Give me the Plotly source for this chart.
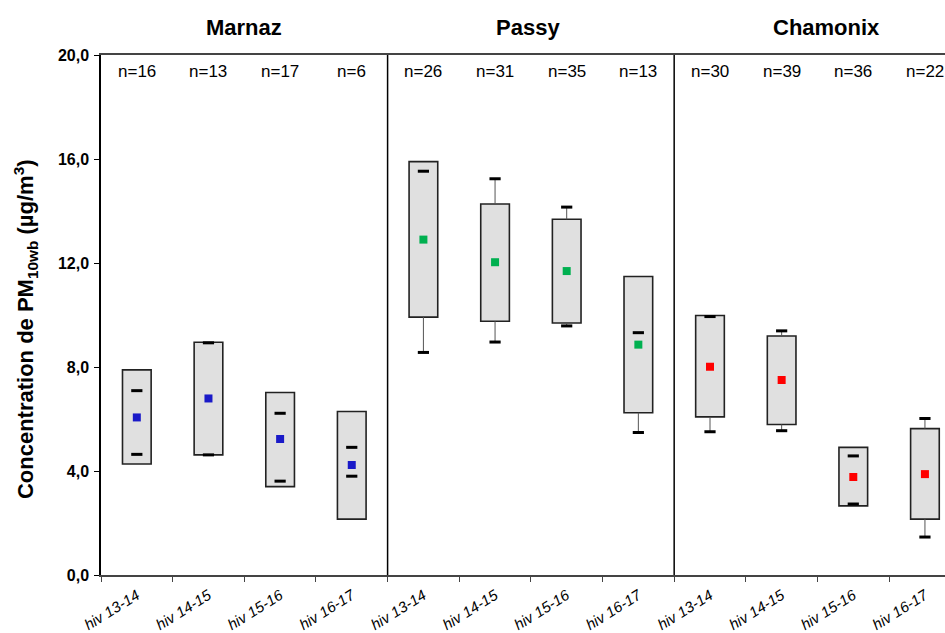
import plotly.graph_objects as go

sites = ["Marnaz", "Passy", "Chamonix"]
seasons = ["hiv 13-14", "hiv 14-15", "hiv 15-16", "hiv 16-17"]
n_counts = [16, 13, 17, 6, 26, 31, 35, 13, 30, 39, 36, 22]
box_low = [4.27, 4.62, 3.40, 2.15, 9.92, 9.76, 9.69, 6.24, 6.08, 5.79, 2.66, 2.15]
box_high = [7.89, 8.95, 7.02, 6.29, 15.90, 14.27, 13.68, 11.48, 9.98, 9.19, 4.91, 5.63]
dash_low = [4.64, 4.62, 3.61, 3.80, 8.56, 8.96, 9.58, 5.48, 5.51, 5.55, 2.73, 1.46]
dash_high = [7.09, 8.93, 6.22, 4.91, 15.53, 15.24, 14.15, 9.32, 9.94, 9.39, 4.58, 6.02]
means = [6.06, 6.79, 5.23, 4.23, 12.90, 12.03, 11.69, 8.86, 8.01, 7.50, 3.77, 3.88]
site_colors = ["#1A1AC8", "#00B050", "#FF0000"]
y_ticks = [0, 4, 8, 12, 16, 20]
y_ticklabels = ["0,0", "4,0", "8,0", "12,0", "16,0", "20,0"]

xs = list(range(len(n_counts)))
x_labels = [s for _ in sites for s in seasons]
mean_colors = [c for c in site_colors for _ in seasons]

fig = go.Figure()

# boxes
fig.add_trace(go.Bar(
    x=xs, y=[h - l for h, l in zip(box_high, box_low)], base=box_low, width=0.4,
    marker=dict(color="#E0E0E0", line=dict(color="#222222", width=1.6)),
    hoverinfo="skip", showlegend=False))

# whiskers outside box
wx, wy = [], []
for i in xs:
    if dash_high[i] > box_high[i]:
        wx += [i, i, None]; wy += [box_high[i], dash_high[i], None]
    if dash_low[i] < box_low[i]:
        wx += [i, i, None]; wy += [box_low[i], dash_low[i], None]
fig.add_trace(go.Scatter(x=wx, y=wy, mode="lines", line=dict(color="#555555", width=1),
                         hoverinfo="skip", showlegend=False))

# dashes
fig.add_trace(go.Scatter(
    x=xs + xs, y=dash_low + dash_high, mode="markers",
    marker=dict(symbol="line-ew", size=8, line=dict(color="black", width=3)),
    hoverinfo="skip", showlegend=False))

# means
fig.add_trace(go.Scatter(
    x=xs, y=means, mode="markers",
    marker=dict(symbol="square", size=8, color=mean_colors, line=dict(width=0)),
    hoverinfo="skip", showlegend=False))

shapes = []
for k in (1, 2):
    xb = k * 4 - 0.5
    shapes.append(dict(type="line", xref="x", yref="y", x0=xb, x1=xb, y0=-0.3, y1=20,
                       line=dict(color="black", width=1.5)))

FONT = "Liberation Sans, Arial"
annotations = []
for i in xs:
    annotations.append(dict(x=i, y=19.35, xref="x", yref="y", text=f"n={n_counts[i]}",
                            showarrow=False, font=dict(size=17, color="black", family=FONT)))
title_shift = [0, -3, 9]
for k, s in enumerate(sites):
    annotations.append(dict(x=k * 4 + 1.5, y=1.0, xref="x", yref="paper", yanchor="middle",
                            yshift=28, xshift=title_shift[k], text=f"<b>{s}</b>", showarrow=False,
                            font=dict(size=22, color="black", family=FONT)))
annotations.append(dict(x=-0.090, y=0.473, xref="paper", yref="paper", textangle=-90,
                        xanchor="center", yanchor="middle",
                        text="<b>Concentration de PM<sub>10wb</sub> (µg/m<sup>3</sup>)</b>",
                        showarrow=False, font=dict(size=22, color="black", family=FONT)))

fig.update_layout(
    width=945, height=633,
    margin=dict(l=101, r=0, t=55, b=58, autoexpand=False),
    paper_bgcolor="white", plot_bgcolor="white",
    shapes=shapes, annotations=annotations, showlegend=False,
    xaxis=dict(range=[-0.5, 11.28], tickmode="array", tickvals=xs,
               ticktext=[f"<i>{t}</i>" for t in x_labels], tickangle=-32,
               tickfont=dict(size=15, color="black", family=FONT),
               ticklabelstandoff=4,
               ticks="", showline=True, linecolor="#444444", linewidth=2, mirror=True,
               showgrid=False, zeroline=False,
               minor=dict(ticks="outside", tick0=-0.5, dtick=1, ticklen=5, tickcolor="#444444",
                          tickwidth=1, showgrid=False)),
    yaxis=dict(range=[0, 20], tickmode="array", tickvals=y_ticks, ticktext=[f"<b>{t}</b>" for t in y_ticklabels],
               tickfont=dict(size=16, color="black", family=FONT),
               ticks="outside", ticklen=5, tickcolor="black", ticklabelstandoff=2,
               showline=True, linecolor="black", linewidth=1.5, showgrid=False, zeroline=False),
)

fig.write_html("out.html", config={"displayModeBar": False},
               post_script="document.body.style.margin='0';document.body.style.overflow='hidden';")
